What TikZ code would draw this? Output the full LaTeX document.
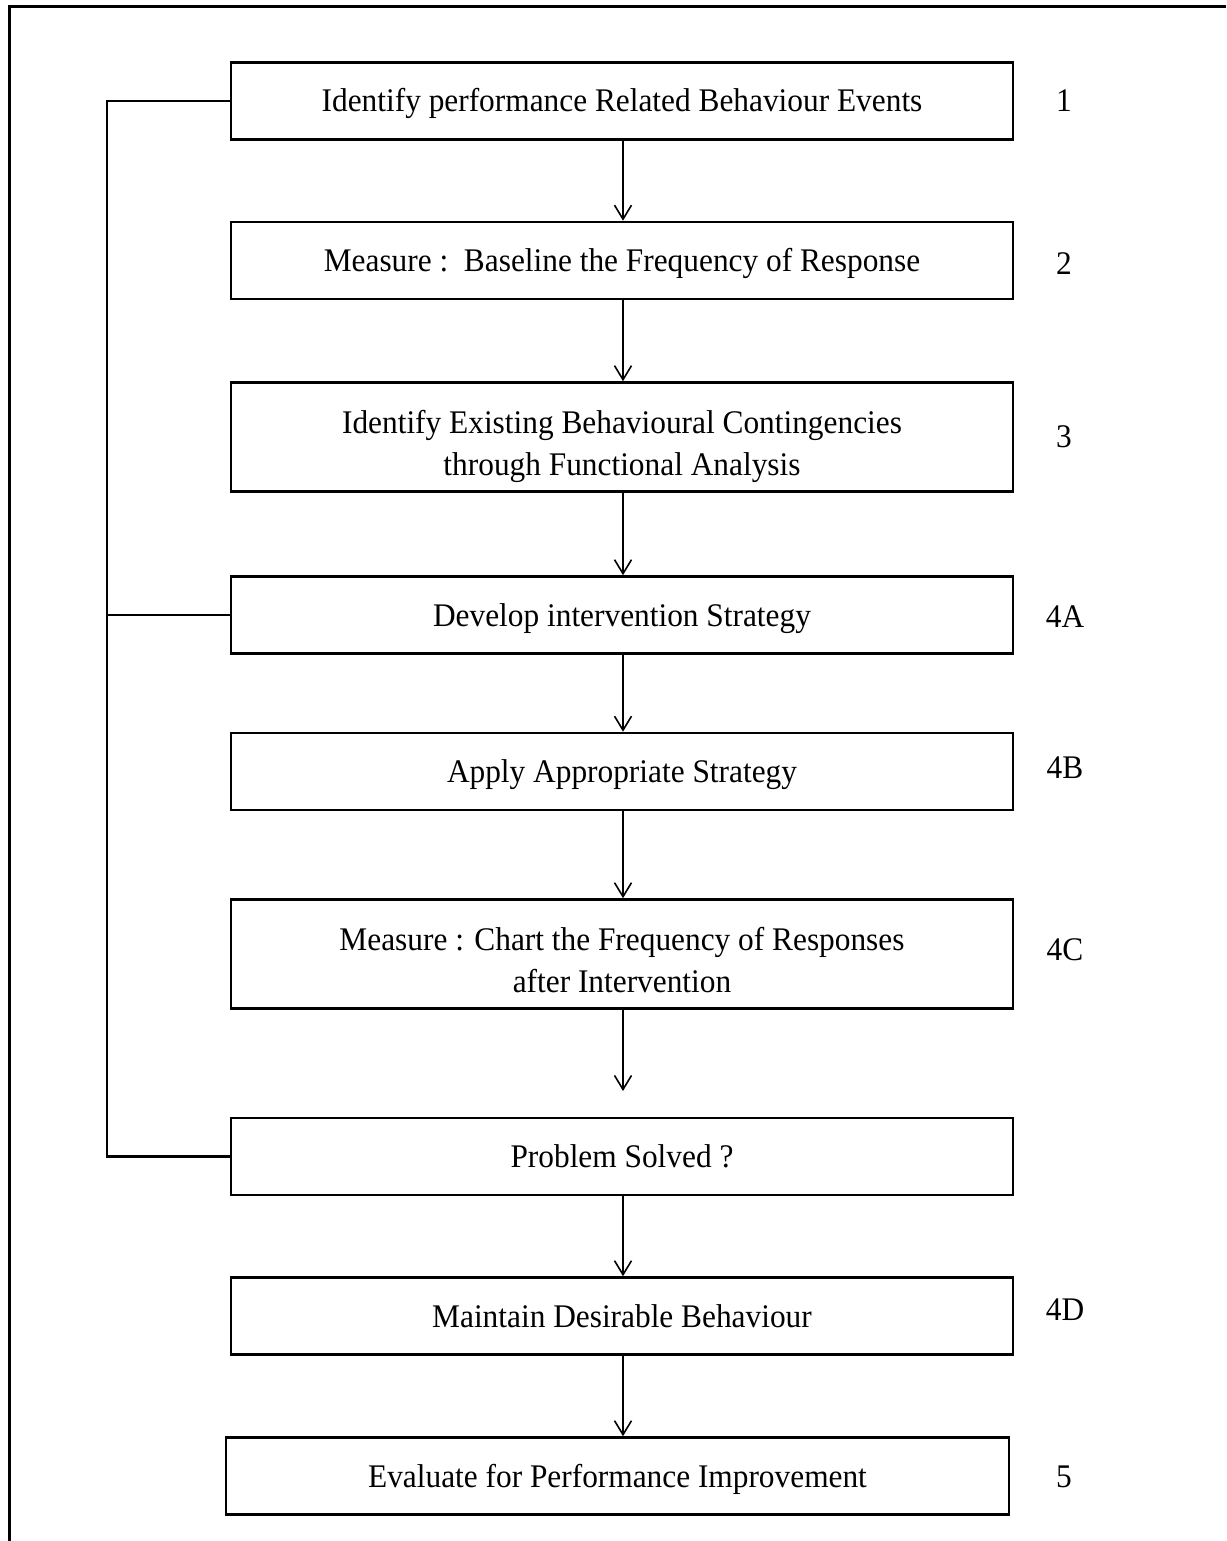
\documentclass[tikz,border=0pt]{standalone}
\usepackage{fontspec}
\setmainfont{Liberation Serif}[FakeStretch=0.95]
\usetikzlibrary{arrows.meta}
\tikzset{
  stepbox/.style={draw, line width=2.6pt, inner sep=0pt, minimum width=782pt,
    minimum height=77pt, align=center, font=\fontsize{33}{42}\selectfont,
    text height=22pt, text depth=0pt},
  twoline/.style={minimum height=109pt, text height=76pt, text depth=0pt},
  tag/.style={font=\fontsize{33}{38}\selectfont, inner sep=0pt},
  flow/.style={line width=1.8pt, -{Straight Barb[length=14pt,width=17pt,line width=1.6pt]}},
  loopline/.style={line width=2.4pt}
}
\begin{document}
\begin{tikzpicture}[x=1pt,y=-1pt]
\useasboundingbox (0,0) rectangle (1226,1541);
% page frame (top and left edges)
\draw[line width=3pt] (9,1541) -- (9,7) -- (1226,7);

% steps
\node[stepbox] (b1) at (622,101) {Identify performance Related Behaviour Events};
\node[stepbox] (b2) at (622,260.5) {Measure :\ \ Baseline the Frequency of Response};
\node[stepbox, twoline] (b3) at (622,437) {Identify Existing Behavioural Contingencies\\through Functional Analysis};
\node[stepbox] (b4a) at (622,615) {Develop intervention Strategy};
\node[stepbox] (b4b) at (622,771.5) {Apply Appropriate Strategy};
\node[stepbox, twoline] (b4c) at (622,954) {Measure : Chart the Frequency of Responses\\after Intervention};
\node[stepbox] (ps) at (622,1156.5) {Problem Solved ?};
\node[stepbox] (b4d) at (622,1316) {Maintain Desirable Behaviour};
\node[stepbox, minimum width=783pt] (b5) at (617.5,1476) {Evaluate for Performance Improvement};

% step numbers
\node[tag] (t1) at (1064,101) {1};
\node[tag] (t2) at (1064,264) {2};
\node[tag] (t3) at (1064,437) {3};
\node[tag] (t4a) at (1065,617) {4A};
\node[tag] (t4b) at (1065,768) {4B};
\node[tag] (t4c) at (1065,950) {4C};
\node[tag] (t4d) at (1065,1310) {4D};
\node[tag] (t5) at (1064,1477) {5};

% main flow
\draw[flow] (b1.south -| 623,0) -- (b2.north -| 623,0);
\draw[flow] (b2.south -| 623,0) -- (b3.north -| 623,0);
\draw[flow] (b3.south -| 623,0) -- (b4a.north -| 623,0);
\draw[flow] (b4a.south -| 623,0) -- (b4b.north -| 623,0);
\draw[flow] (b4b.south -| 623,0) -- (b4c.north -| 623,0);
\coordinate (gap) at (623,1091);
\draw[flow] (b4c.south -| gap) -- (gap);
\draw[flow] (ps.south -| 623,0) -- (b4d.north -| 623,0);
\draw[flow] (b4d.south -| 623,0) -- (b5.north -| 623,0);

% feedback bracket on the left
\coordinate (lp) at (107,0);
\draw[loopline] (b1.west) -| (lp |- ps.west) -- (ps.west);
\draw[loopline] (b4a.west) -- (lp |- b4a.west);
\end{tikzpicture}
\end{document}
